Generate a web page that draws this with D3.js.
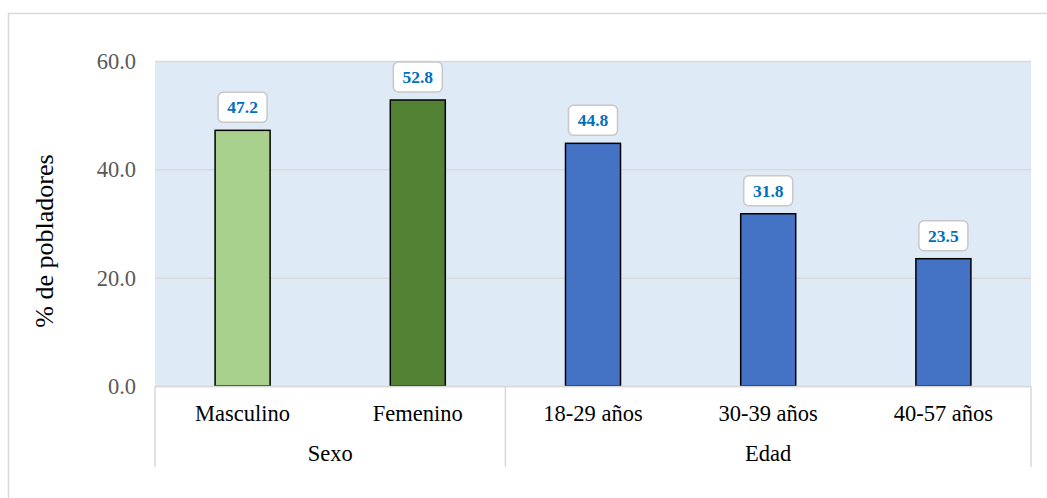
<!DOCTYPE html>
<html>
<head>
<meta charset="utf-8">
<script src="https://cdn.jsdelivr.net/npm/d3@7"></script>
<style>
  body { margin: 0; background: #fff; }
  svg { display: block; font-family: "Liberation Serif", "Times New Roman", serif; }
</style>
</head>
<body>
<div id="chart"></div>
<script>
// data
const categories = ["Masculino", "Femenino", "18-29 años", "30-39 años", "40-57 años"];
const values = [47.2, 52.8, 44.8, 31.8, 23.5];
const barColors = ["#a9d18e", "#548235", "#4472c4", "#4472c4", "#4472c4"];
const groups = [
  { name: "Sexo", from: 0, to: 1 },
  { name: "Edad", from: 2, to: 4 }
];
const yTicks = [0, 20, 40, 60];

const width = 1047, height = 498;
const plot = { left: 155, right: 1031, top: 61, bottom: 386 };

const svg = d3.select("#chart").append("svg")
  .attr("width", width)
  .attr("height", height);

// outer frame (runs off the right and bottom of the picture)
svg.append("path")
  .attr("d", `M8.5,${height + 2} L8.5,13.5 L${width + 2},13.5`)
  .attr("fill", "none")
  .attr("stroke", "#d9d9d9")
  .attr("stroke-width", 1.5);

const x = d3.scaleBand()
  .domain(categories)
  .range([plot.left, plot.right])
  .paddingInner(0.686)
  .paddingOuter(0.343);

const band = (plot.right - plot.left) / categories.length;

const y = d3.scaleLinear()
  .domain([0, 60])
  .range([plot.bottom, plot.top]);

// plot area background
svg.append("rect")
  .attr("x", plot.left)
  .attr("y", plot.top)
  .attr("width", plot.right - plot.left)
  .attr("height", plot.bottom - plot.top)
  .attr("fill", "#deeaf6");

// gridlines
svg.append("g")
  .selectAll("line")
  .data(yTicks)
  .join("line")
  .attr("x1", plot.left)
  .attr("x2", plot.right)
  .attr("y1", d => y(d) + 0.5)
  .attr("y2", d => y(d) + 0.5)
  .attr("stroke", "#d9d9d9")
  .attr("stroke-width", 1.5);

// y tick labels
svg.append("g")
  .selectAll("text")
  .data(yTicks)
  .join("text")
  .attr("x", 136)
  .attr("y", d => y(d))
  .attr("dy", "0.35em")
  .attr("text-anchor", "end")
  .attr("fill", "#595959")
  .attr("font-size", 22.5)
  .text(d => d3.format(".1f")(d));

// y title
svg.append("text")
  .attr("transform", "translate(53,241) rotate(-90)")
  .attr("text-anchor", "middle")
  .attr("font-size", 26)
  .attr("fill", "#000")
  .text("% de pobladores");

// bars
svg.append("g")
  .selectAll("rect")
  .data(values)
  .join("rect")
  .attr("x", (d, i) => x(categories[i]))
  .attr("y", d => y(d))
  .attr("width", x.bandwidth())
  .attr("height", d => y(0) - y(d))
  .attr("fill", (d, i) => barColors[i])
  .attr("stroke", "#000")
  .attr("stroke-width", 1.5);

// value labels
const lbl = svg.append("g")
  .selectAll("g")
  .data(values)
  .join("g")
  .attr("transform", (d, i) => `translate(${x(categories[i]) + x.bandwidth() / 2},${y(d) - 23})`);

lbl.append("rect")
  .attr("x", -24.5)
  .attr("y", -15)
  .attr("width", 49)
  .attr("height", 30)
  .attr("rx", 5)
  .attr("fill", "#fff")
  .attr("stroke", "#c8c8c8")
  .attr("stroke-width", 1.5);

lbl.append("text")
  .attr("text-anchor", "middle")
  .attr("dy", "0.35em")
  .attr("font-size", 17.5)
  .attr("font-weight", "bold")
  .attr("fill", "#0070c0")
  .text(d => d3.format(".1f")(d));

// category axis
const axisG = svg.append("g");
axisG.append("line")
  .attr("x1", plot.left).attr("x2", plot.right)
  .attr("y1", plot.bottom + 0.5).attr("y2", plot.bottom + 0.5)
  .attr("stroke", "#d9d9d9").attr("stroke-width", 1.5);

const sepX = [plot.left, plot.left + band * (groups[1].from), plot.right];
axisG.selectAll("line.sep")
  .data(sepX)
  .join("line")
  .attr("class", "sep")
  .attr("x1", d => d).attr("x2", d => d)
  .attr("y1", plot.bottom).attr("y2", 467)
  .attr("stroke", "#d9d9d9").attr("stroke-width", 1.5);

axisG.selectAll("text.cat")
  .data(categories)
  .join("text")
  .attr("class", "cat")
  .attr("x", d => x(d) + x.bandwidth() / 2)
  .attr("y", 413)
  .attr("dy", "0.35em")
  .attr("text-anchor", "middle")
  .attr("font-size", 22.5)
  .text(d => d);

axisG.selectAll("text.grp")
  .data(groups)
  .join("text")
  .attr("class", "grp")
  .attr("x", d => plot.left + band * (d.from + d.to + 1) / 2)
  .attr("y", 453)
  .attr("dy", "0.35em")
  .attr("text-anchor", "middle")
  .attr("font-size", 22.5)
  .text(d => d.name);
</script>
</body>
</html>
